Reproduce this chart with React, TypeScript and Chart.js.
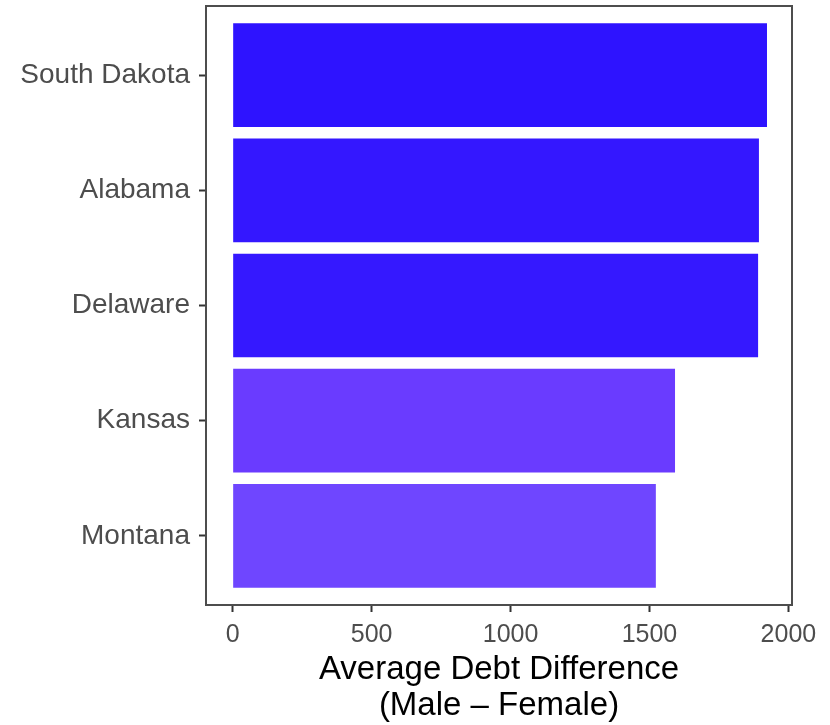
import React, { useEffect, useRef } from "react";
import { Chart, registerables } from "chart.js";

Chart.register(...registerables);

const states = ["South Dakota", "Alabama", "Delaware", "Kansas", "Montana"];
const debtDiff = [1923, 1894, 1891, 1592, 1523];
const barColors = ["#2E13FF", "#3417FF", "#3518FF", "#6A3BFF", "#6F46FF"];
const xTicks = [0, 500, 1000, 1500, 2000];
const xTitle = ["Average Debt Difference", "(Male \u2013 Female)"];

const FONT = "'Liberation Sans', Arial, Helvetica, sans-serif";

const borderPlugin = {
  id: "panelBorder",
  afterDatasetsDraw(chart: any) {
    const { ctx, chartArea } = chart;
    ctx.save();
    ctx.strokeStyle = "#4D4D4D";
    ctx.lineWidth = 2;
    ctx.strokeRect(chartArea.left, chartArea.top, chartArea.right - chartArea.left, chartArea.bottom - chartArea.top);
    ctx.restore();
  },
};

export default function App() {
  const ref = useRef<HTMLCanvasElement>(null);
  useEffect(() => {
    const chart = new Chart(ref.current as HTMLCanvasElement, {
      type: "bar",
      data: {
        datasets: [
          {
            data: states.map((s, i) => ({ x: debtDiff[i], y: i })) as any,
            backgroundColor: barColors,
            barPercentage: 0.9,
            categoryPercentage: 1,
          },
        ],
      },
      plugins: [borderPlugin],
      options: {
        indexAxis: "y",
        responsive: false,
        animation: false,
        layout: { padding: { top: 6, right: 38, left: 0, bottom: 0 } },
        plugins: { legend: { display: false }, tooltip: { enabled: false } },
        scales: {
          x: {
            type: "linear",
            min: -96,
            max: 2013,
            offset: false,
            afterBuildTicks: (scale: any) => {
              scale.ticks = xTicks.map((v) => ({ value: v }));
            },
            afterFit: (scale: any) => {
              scale.height = 120;
              scale.paddingLeft = 0;
              scale.paddingRight = 0;
            },
            grid: { display: true, offset: false, drawOnChartArea: false, drawTicks: true, tickLength: 7, tickColor: "#333333", tickWidth: 2 },
            border: { display: false },
            ticks: {
              color: "#4D4D4D",
              font: { family: FONT, size: 25 },
              padding: 8,
              maxRotation: 0,
              autoSkip: false,
              callback: (v: any) => String(v),
            },
            title: {
              display: true,
              text: xTitle,
              color: "#000000",
              font: { family: FONT, size: 33, lineHeight: 1.09 },
              padding: { top: 0, bottom: 1 },
            },
          },
          y: {
            type: "linear",
            min: -0.6,
            max: 4.6,
            reverse: true,
            offset: false,
            afterBuildTicks: (scale: any) => {
              scale.ticks = states.map((_, i) => ({ value: i }));
            },
            afterFit: (scale: any) => {
              scale.width = 206;
              scale.paddingTop = 0;
              scale.paddingBottom = 0;
            },
            grid: { display: true, offset: false, drawOnChartArea: false, drawTicks: true, tickLength: 7, tickColor: "#333333", tickWidth: 2 },
            border: { display: false },
            ticks: {
              color: "#4D4D4D",
              font: { family: FONT, size: 28 },
              padding: 9,
              autoSkip: false,
              callback: (v: any) => states[v as number] ?? "",
            },
          },
        },
      },
    } as any);
    return () => chart.destroy();
  }, []);
  return (
    <div style={{ position: "absolute", left: 0, top: 0, width: 830, height: 725, background: "#fff" }}>
      <canvas ref={ref} width={830} height={725} style={{ width: 830, height: 725 }} />
    </div>
  );
}
